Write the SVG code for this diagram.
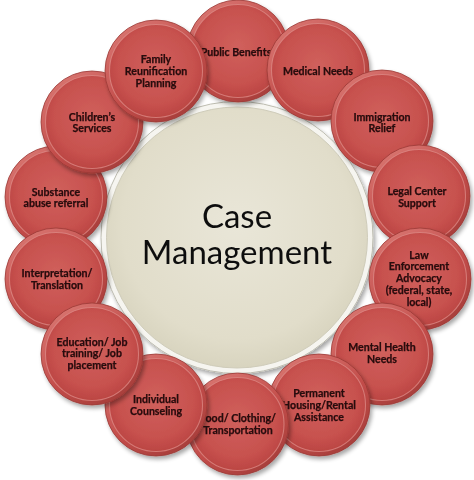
<svg xmlns="http://www.w3.org/2000/svg" width="474" height="480" viewBox="0 0 474 480">
<defs>
  <radialGradient id="face" cx="50%" cy="45%" r="55%">
    <stop offset="0%" stop-color="#d0605c"/>
    <stop offset="75%" stop-color="#c7514e"/>
    <stop offset="100%" stop-color="#bb4542"/>
  </radialGradient>
  <linearGradient id="rim" x1="0.2" y1="0.1" x2="0.8" y2="0.95">
    <stop offset="0%" stop-color="#d6716d"/>
    <stop offset="55%" stop-color="#c24c49"/>
    <stop offset="100%" stop-color="#a63e3b"/>
  </linearGradient>
  <radialGradient id="hub" cx="50%" cy="45%" r="55%">
    <stop offset="0%" stop-color="#e9e6d8"/>
    <stop offset="80%" stop-color="#e1ddca"/>
    <stop offset="100%" stop-color="#d8d4bf"/>
  </radialGradient>
  <filter id="sh" x="-20%" y="-20%" width="150%" height="150%">
    <feGaussianBlur in="SourceAlpha" stdDeviation="2"/>
    <feOffset dx="2" dy="3" result="b"/>
    <feComponentTransfer><feFuncA type="linear" slope="0.35"/></feComponentTransfer>
    <feMerge><feMergeNode/><feMergeNode in="SourceGraphic"/></feMerge>
  </filter>
  <g id="disc">
    <circle r="51" fill="url(#rim)" stroke="#9a3835" stroke-width="0.8"/>
    <circle r="46.5" fill="url(#face)" stroke="#de8b87" stroke-width="1.1" stroke-opacity="0.75"/>
  </g>
  <style>
    .t{font-family:Lato,"Open Sans",sans-serif;font-weight:bold;font-size:10.6px;fill:#260a0c;stroke:#260a0c;stroke-width:0.25px;text-anchor:middle}
    .c{font-family:Lato,"Open Sans",sans-serif;font-size:33px;fill:#111;text-anchor:middle}
  </style>
</defs>
<rect width="474" height="480" fill="#ffffff"/>

<g id="hub-node" filter="url(#sh)">
  <circle cx="237" cy="237.5" r="136" fill="#f6f5f0" stroke="#bdbcb0" stroke-width="1"/>
  <circle cx="237" cy="237.5" r="130.5" fill="url(#hub)" stroke="#cfccba" stroke-width="1"/>
  <text class="c" x="237" y="228">Case</text>
  <text class="c" x="237" y="264">Management</text>
</g>

<g id="connectors"></g>

<g id="public" filter="url(#sh)">
  <use href="#disc" x="238" y="51"/>
  <text class="t" x="236" y="55.5">Public Benefits</text>
</g>
<g id="medical" filter="url(#sh)">
  <use href="#disc" x="318" y="70"/>
  <text class="t" x="318" y="74.5">Medical Needs</text>
</g>
<g id="immigration" filter="url(#sh)">
  <use href="#disc" x="382" y="121"/>
  <text class="t" x="382" y="120.5">Immigration</text>
  <text class="t" x="382" y="132">Relief</text>
</g>
<g id="legal" filter="url(#sh)">
  <use href="#disc" x="419" y="196"/>
  <text class="t" x="417" y="194.5">Legal Center</text>
  <text class="t" x="417" y="206.5">Support</text>
</g>
<g id="law" filter="url(#sh)">
  <use href="#disc" x="420" y="279"/>
  <text class="t" x="419" y="258.5">Law</text>
  <text class="t" x="419" y="270">Enforcement</text>
  <text class="t" x="419" y="282">Advocacy</text>
  <text class="t" x="419" y="294">(federal, state,</text>
  <text class="t" x="419" y="305.5">local)</text>
</g>
<g id="mental" filter="url(#sh)">
  <use href="#disc" x="382" y="354"/>
  <text class="t" x="382" y="350.5">Mental Health</text>
  <text class="t" x="382" y="362.5">Needs</text>
</g>
<g id="housing" filter="url(#sh)">
  <use href="#disc" x="319" y="405"/>
  <text class="t" x="319" y="396.5">Permanent</text>
  <text class="t" x="319" y="408.5">Housing/Rental</text>
  <text class="t" x="319" y="420.5">Assistance</text>
</g>
<g id="food" filter="url(#sh)">
  <use href="#disc" x="237.5" y="424"/>
  <text class="t" x="238" y="421.5">Food/ Clothing/</text>
  <text class="t" x="238" y="433.5">Transportation</text>
</g>
<g id="counseling" filter="url(#sh)">
  <use href="#disc" x="156" y="405"/>
  <text class="t" x="156" y="402.5">Individual</text>
  <text class="t" x="156" y="414.5">Counseling</text>
</g>
<g id="substance" filter="url(#sh)">
  <use href="#disc" x="56" y="197"/>
  <text class="t" x="56" y="195.5">Substance</text>
  <text class="t" x="56" y="206.5">abuse referral</text>
</g>
<g id="interpretation" filter="url(#sh)">
  <use href="#disc" x="56" y="279"/>
  <text class="t" x="57" y="276.5">Interpretation/</text>
  <text class="t" x="57" y="288.5">Translation</text>
</g>
<g id="education" filter="url(#sh)">
  <use href="#disc" x="92" y="354"/>
  <text class="t" x="92" y="345.5">Education/ Job</text>
  <text class="t" x="92" y="357">training/ Job</text>
  <text class="t" x="92" y="368.5">placement</text>
</g>
<g id="children" filter="url(#sh)">
  <use href="#disc" x="92" y="122"/>
  <text class="t" x="92" y="120.5">Children’s</text>
  <text class="t" x="92" y="131.5">Services</text>
</g>
<g id="family" filter="url(#sh)">
  <use href="#disc" x="156" y="71"/>
  <text class="t" x="156" y="62.5">Family</text>
  <text class="t" x="156" y="74.5">Reunification</text>
  <text class="t" x="156" y="86.5">Planning</text>
</g>
</svg>
